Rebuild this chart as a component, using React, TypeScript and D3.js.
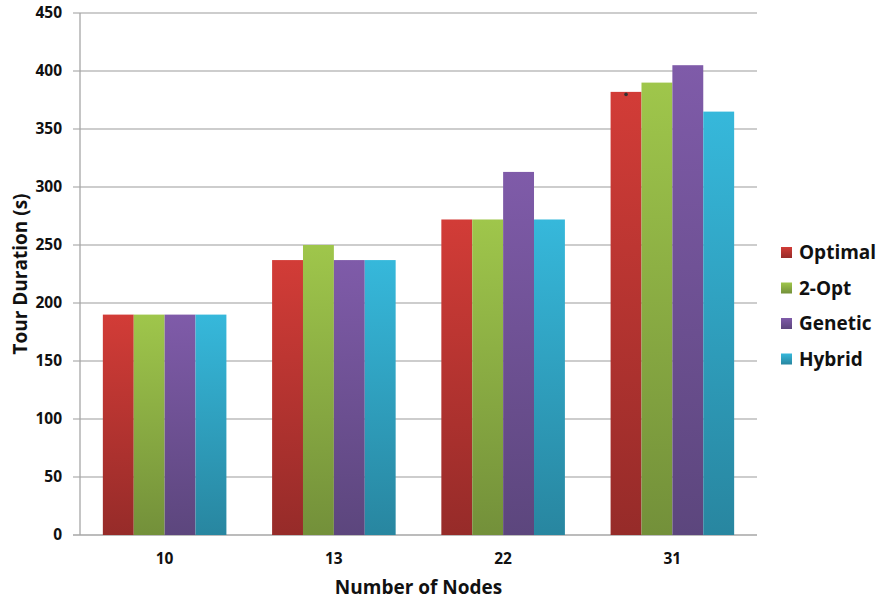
import React from "react";
import * as d3 from "d3";

const categories = ["10", "13", "22", "31"];
const seriesNames = ["Optimal", "2-Opt", "Genetic", "Hybrid"];
const optimal = [190, 237, 272, 382];
const twoOpt = [190, 250, 272, 390];
const genetic = [190, 237, 313, 405];
const hybrid = [190, 237, 272, 365];
const yTicks = [0, 50, 100, 150, 200, 250, 300, 350, 400, 450];
const seriesColors = [
  { top: "#d23c37", bottom: "#962b29" },
  { top: "#9fc64b", bottom: "#73903a" },
  { top: "#7f5ba9", bottom: "#5c467d" },
  { top: "#36b8db", bottom: "#2886a0" },
];

const W = 879;
const H = 601;
const M = { left: 80, right: 757, top: 13, bottom: 535 };
const FONT = "'Open Sans', 'DejaVu Sans', sans-serif";

export default function App() {
  const values = [optimal, twoOpt, genetic, hybrid];
  const x = d3
    .scaleBand<string>()
    .domain(categories)
    .range([M.left, M.right])
    .paddingInner(0.27)
    .paddingOuter(0.135);
  const xs = d3
    .scaleBand<string>()
    .domain(seriesNames)
    .range([0, x.bandwidth()])
    .padding(0);
  const y = d3.scaleLinear().domain([0, 450]).range([M.bottom, M.top]);

  return (
    <svg
      width={W}
      height={H}
      style={{ position: "absolute", left: 0, top: 0, background: "#fff" }}
      fontFamily={FONT}
    >
      <defs>
        {seriesColors.map((c, i) => (
          <linearGradient key={i} id={`g${i}`} x1="0" y1="0" x2="0" y2="1">
            <stop offset="0%" stopColor={c.top} />
            <stop offset="100%" stopColor={c.bottom} />
          </linearGradient>
        ))}
      </defs>
      {yTicks.map((t) => (
        <g key={t}>
          <line
            x1={M.left - 7}
            x2={M.right}
            y1={y(t)}
            y2={y(t)}
            stroke={t === 0 ? "#a6a6a6" : "#bdbdbd"}
            strokeWidth={1.3}
          />
          <text
            x={62}
            y={y(t)}
            dy="0.35em"
            textAnchor="end"
            fontSize={15.5}
            fontWeight="bold"
            fill="#111"
          >
            {t}
          </text>
        </g>
      ))}
      <line x1={M.left} x2={M.left} y1={M.top} y2={M.bottom} stroke="#a6a6a6" strokeWidth={1.3} />
      {categories.map((c, ci) => (
        <g key={c}>
          {seriesNames.map((s, si) => {
            const v = values[si][ci];
            return (
              <rect
                key={s}
                x={(x(c) as number) + (xs(s) as number)}
                y={y(v)}
                width={xs.bandwidth()}
                height={y(0) - y(v)}
                fill={`url(#g${si})`}
              />
            );
          })}
          <text
            x={(x(c) as number) + x.bandwidth() / 2}
            y={564}
            textAnchor="middle"
            fontSize={15.5}
            fontWeight="bold"
            fill="#111"
          >
            {c}
          </text>
        </g>
      ))}
      <circle
        cx={(x("31") as number) + (xs("Optimal") as number) + xs.bandwidth() / 2}
        cy={y(382) + 2.5}
        r={1.8}
        fill="#333"
      />
      <text
        x={(M.left + M.right) / 2}
        y={594}
        textAnchor="middle"
        fontSize={19}
        fontWeight="bold"
        fill="#111"
      >
        Number of Nodes
      </text>
      <text
        transform={`translate(27, ${(M.top + M.bottom) / 2}) rotate(-90)`}
        textAnchor="middle"
        fontSize={19}
        fontWeight="bold"
        fill="#111"
      >
        Tour Duration (s)
      </text>
      {seriesNames.map((s, i) => (
        <g key={s} transform={`translate(781, ${247 + i * 35.5})`}>
          <rect x={0} y={0} width={11} height={11} fill={`url(#g${i})`} />
          <text x={18} y={5.5} dy="0.36em" fontSize={19} fontWeight="bold" fill="#111">
            {s}
          </text>
        </g>
      ))}
    </svg>
  );
}
